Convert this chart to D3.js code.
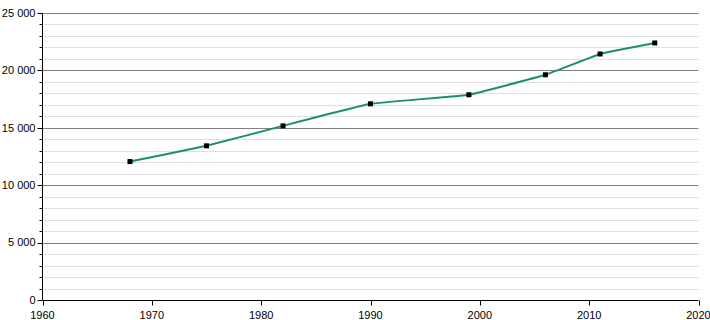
<!DOCTYPE html>
<html>
<head>
<meta charset="utf-8">
<script src="https://cdn.jsdelivr.net/npm/d3@7"></script>
<style>
  body { margin: 0; background: #fff; }
  svg text { font-family: "Liberation Sans", Arial, sans-serif; font-size: 11px; fill: #000; }
</style>
</head>
<body>
<div id="chart"></div>
<script>
// data
var years = [1968, 1975, 1982, 1990, 1999, 2006, 2011, 2016];
var population = [12060, 13430, 15170, 17090, 17880, 19620, 21430, 22390];
var xTicks = [1960, 1970, 1980, 1990, 2000, 2010, 2020];
var yTicks = [0, 5000, 10000, 15000, 20000, 25000];

var width = 710, height = 320;
var margin = {left: 42.5, right: 11.5, top: 13, bottom: 20};

var svg = d3.select('#chart').append('svg')
  .attr('width', width)
  .attr('height', height);

var x = d3.scaleLinear().domain([1960, 2020]).range([margin.left, width - margin.right]);
var y = d3.scaleLinear().domain([0, 25000]).range([height - margin.bottom, margin.top]);

var fmt = d3.formatLocale({decimal: ',', thousands: ' ', grouping: [3], currency: ['', '']}).format(',d');

// minor gridlines every 1000
var minor = d3.range(1000, 25000, 1000).filter(function(d){ return d % 5000 != 0; });
svg.append('g').selectAll('line')
  .data(minor)
  .enter().append('line')
  .attr('x1', margin.left)
  .attr('x2', width - margin.right)
  .attr('y1', function(d){ return Math.round(y(d)) + 0.5; })
  .attr('y2', function(d){ return Math.round(y(d)) + 0.5; })
  .attr('stroke', '#e0e0e0')
  .attr('stroke-width', 1);

// major gridlines
svg.append('g').selectAll('line')
  .data(yTicks.slice(1))
  .enter().append('line')
  .attr('x1', margin.left)
  .attr('x2', width - margin.right)
  .attr('y1', function(d){ return Math.round(y(d)) + 0.5; })
  .attr('y2', function(d){ return Math.round(y(d)) + 0.5; })
  .attr('stroke', '#808080')
  .attr('stroke-width', 1);

// y axis
var yAxis = svg.append('g')
  .attr('transform', 'translate(' + margin.left + ',0)');
yAxis.append('line')
  .attr('x1', 0).attr('x2', 0)
  .attr('y1', y(25000)).attr('y2', y(0))
  .attr('stroke', '#000');
yAxis.selectAll('.minor')
  .data(minor)
  .enter().append('line')
  .attr('x1', -3).attr('x2', 0)
  .attr('y1', function(d){ return Math.round(y(d)) + 0.5; })
  .attr('y2', function(d){ return Math.round(y(d)) + 0.5; })
  .attr('stroke', '#000');
yAxis.selectAll('.major')
  .data(yTicks)
  .enter().append('line')
  .attr('x1', -5).attr('x2', 0)
  .attr('y1', function(d){ return Math.round(y(d)) + 0.5; })
  .attr('y2', function(d){ return Math.round(y(d)) + 0.5; })
  .attr('stroke', '#000');
yAxis.selectAll('text')
  .data(yTicks)
  .enter().append('text')
  .text(function(d){ return fmt(d); })
  .attr('x', -7)
  .attr('y', function(d){ return y(d); })
  .attr('dy', '0.35em')
  .attr('text-anchor', 'end');

// x axis
var xAxis = svg.append('g')
  .attr('transform', 'translate(0,' + (y(0) + 0.5) + ')');
xAxis.append('line')
  .attr('x1', x(1960)).attr('x2', x(2020))
  .attr('y1', 0).attr('y2', 0)
  .attr('stroke', '#000');
xAxis.selectAll('.tick')
  .data(xTicks)
  .enter().append('line')
  .attr('x1', function(d){ return Math.round(x(d)) + 0.5; })
  .attr('x2', function(d){ return Math.round(x(d)) + 0.5; })
  .attr('y1', 0).attr('y2', 5)
  .attr('stroke', '#000');
xAxis.selectAll('text')
  .data(xTicks)
  .enter().append('text')
  .text(function(d){ return d; })
  .attr('x', function(d){ return x(d); })
  .attr('y', 18)
  .attr('text-anchor', 'middle');

// the line, only slightly smoothed
var pts = years.map(function(d, i){ return [d, population[i]]; });
var line = d3.line()
  .x(function(d){ return x(d[0]); })
  .y(function(d){ return y(d[1]); })
  .curve(d3.curveCardinal.tension(0.75));

svg.append('path')
  .datum(pts)
  .attr('d', line)
  .attr('fill', 'none')
  .attr('stroke', '#1b8f6e')
  .attr('stroke-width', 2);

svg.append('g').selectAll('rect')
  .data(pts)
  .enter().append('rect')
  .attr('x', function(d){ return x(d[0]) - 2.5; })
  .attr('y', function(d){ return y(d[1]) - 2.5; })
  .attr('width', 5)
  .attr('height', 5)
  .attr('fill', '#000');
</script>
</body>
</html>
